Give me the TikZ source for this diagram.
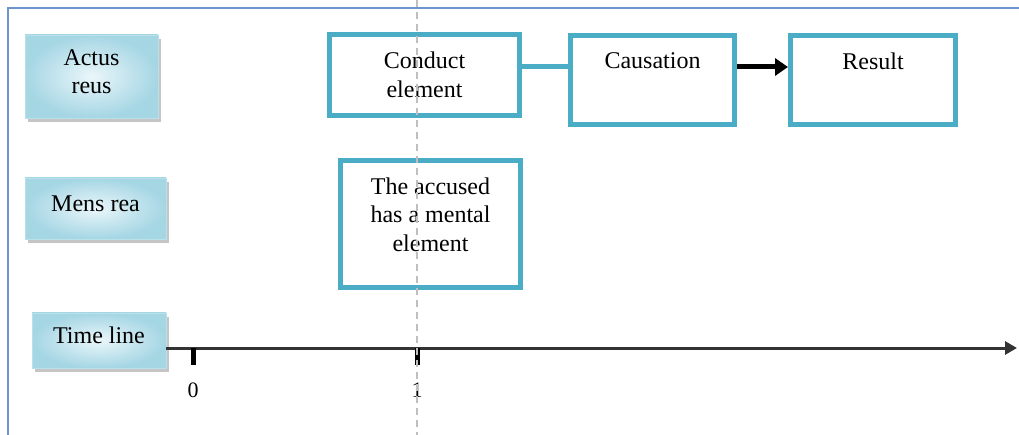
\documentclass[tikz,border=0pt]{standalone}
\usepackage{fontspec}
\setmainfont{Liberation Serif}
\usetikzlibrary{arrows.meta,shadows}
\definecolor{boxblue}{RGB}{75,172,198}
\definecolor{framebl}{RGB}{110,148,205}
\definecolor{shadelt}{RGB}{234,246,250}
\definecolor{shadedk}{RGB}{165,214,228}
\newcommand{\bodyfont}{\fontsize{24}{28.5}\selectfont}

\begin{document}
\begin{tikzpicture}[x=1pt,y=-1pt,
  elem/.style={draw=boxblue,line width=5pt,fill=white,font=\bodyfont,align=center,inner sep=0pt},
  tag/.style={draw=shadelt!70!boxblue,line width=0.8pt,inner color=shadelt,outer color=shadedk,
    font=\bodyfont,align=center,inner sep=0pt,text depth=10pt,
    drop shadow={shadow xshift=3pt,shadow yshift=-4pt,fill=black!45}},
  toptext/.style={label={[font=\bodyfont,align=center,anchor=north,inner sep=0pt,yshift=-19.5pt]north:#1}},
  link/.style={draw=boxblue,line width=5pt},
  push/.style={line width=5pt,-{Triangle[length=13pt,width=17pt]}},
  axis/.style={draw=black!80,line width=3pt,-{Triangle[length=12pt,width=13pt]}},
  tick/.style={line width=5pt},
  ticklbl/.style={font=\fontsize{22}{26}\selectfont,inner sep=0pt},
  frame/.style={draw=framebl,line width=2pt},
  guide/.style={draw=black!25,line width=1.5pt,dash pattern=on 7pt off 5pt}]
\useasboundingbox (0,0) rectangle (1019,435);
\clip (0,0) rectangle (1019,435);
\coordinate (t0) at (193,348);
\coordinate (t1) at (417,348);
\coordinate (tend) at (1017,348);
\coordinate (gtop) at (417,0);
\coordinate (gbot) at (417,435);

\draw[frame] (8,440) |- (1025,8);

% row labels
\node[tag,minimum width=133pt,minimum height=83pt] (actus) at (91.5,76.5) {Actus\\reus};
\node[tag,minimum width=141pt,minimum height=61pt] (mens) at (95.5,208.5) {Mens rea};
\node[tag,minimum width=134pt,minimum height=55pt] (timeline) at (99,340.5) {Time line};

% elements
\node[elem,minimum width=190pt,minimum height=81pt] (conduct) at (424.5,75) {Conduct\\element};
\node[elem,minimum width=164pt,minimum height=89pt,toptext=Causation] (causation) at (652.5,80) {};
\node[elem,minimum width=165pt,minimum height=89pt,toptext=Result] (result) at (873,80) {};
\node[elem,minimum width=180pt,minimum height=127pt,toptext={The accused\\has a mental\\element}] (mental) at (430.5,224) {};

\draw[link] ([yshift=8pt]conduct.east) -- ([yshift=8pt]conduct.east -| causation.west);
\draw[push] ([yshift=13pt]causation.east) -- ([yshift=13pt]causation.east -| result.west);

% time axis
\draw[axis] (timeline.east |- t0) -- (tend);
\foreach \t/\n in {t0/0,t1/1}{
	\draw[tick] (\t) -- ++(0,17);
	\node[ticklbl] (l\n) at ([yshift=-42pt]\t) {\n};
}

\draw[guide] (gtop) -- (gbot);
\end{tikzpicture}
\end{document}
